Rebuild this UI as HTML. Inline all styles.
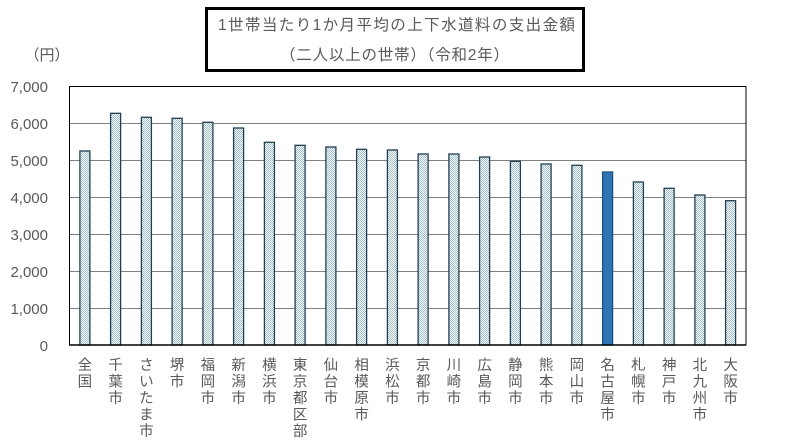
<!DOCTYPE html>
<html><head><meta charset="utf-8"><style>
html,body{margin:0;padding:0;background:#fff;}
svg{display:block;}
text{font-family:"Liberation Sans","Noto Sans CJK JP",sans-serif;fill:#595959;}
</style></head><body>
<svg width="788" height="445" viewBox="0 0 788 445" xmlns="http://www.w3.org/2000/svg">
<defs>
<pattern id="dot" width="2" height="2" patternUnits="userSpaceOnUse">
<rect width="2" height="2" fill="#ffffff"/>
<rect width="1" height="1" fill="#9dbdd0"/>
<rect x="1" y="1" width="1" height="1" fill="#9dbdd0"/>
</pattern>
</defs>
<rect x="0" y="0" width="788" height="445" fill="#fff"/>
<!-- title box -->
<rect x="206.5" y="8.5" width="377" height="62" fill="#fff" stroke="#000" stroke-width="3"/>
<text x="218" y="30" font-size="15.5" textLength="357" lengthAdjust="spacing">1世帯当たり1か月平均の上下水道料の支出金額</text>
<text x="280" y="60" font-size="15.5" textLength="229" lengthAdjust="spacing">（二人以上の世帯）（令和2年）</text>
<text x="47" y="60" text-anchor="middle" font-size="15">（円）</text>
<!-- gridlines -->
<g stroke="#808080" stroke-width="1">
<line x1="69.5" x2="746" y1="123.5" y2="123.5"/>
<line x1="69.5" x2="746" y1="160.5" y2="160.5"/>
<line x1="69.5" x2="746" y1="197.5" y2="197.5"/>
<line x1="69.5" x2="746" y1="234.5" y2="234.5"/>
<line x1="69.5" x2="746" y1="271.5" y2="271.5"/>
<line x1="69.5" x2="746" y1="308.5" y2="308.5"/>
</g>
<rect x="69.5" y="86.5" width="676.5" height="258.5" fill="none" stroke="#000" stroke-width="1"/>
<!-- y labels -->
<g font-size="15" text-anchor="end">
<text x="48" y="92">7,000</text>
<text x="48" y="129">6,000</text>
<text x="48" y="166">5,000</text>
<text x="48" y="203">4,000</text>
<text x="48" y="240">3,000</text>
<text x="48" y="277">2,000</text>
<text x="48" y="314">1,000</text>
<text x="48" y="351">0</text>
</g>
<!-- bars -->
<g stroke="#1f3f52" stroke-width="1.3" fill="url(#dot)">
<rect x="79.9" y="151.0" width="10" height="194.0"/>
<rect x="110.6" y="113.3" width="10" height="231.7"/>
<rect x="141.4" y="117.3" width="10" height="227.7"/>
<rect x="172.1" y="118.3" width="10" height="226.7"/>
<rect x="202.9" y="122.3" width="10" height="222.7"/>
<rect x="233.6" y="128.0" width="10" height="217.0"/>
<rect x="264.4" y="142.3" width="10" height="202.7"/>
<rect x="295.1" y="145.3" width="10" height="199.7"/>
<rect x="325.9" y="147.0" width="10" height="198.0"/>
<rect x="356.6" y="149.3" width="10" height="195.7"/>
<rect x="387.4" y="150.0" width="10" height="195.0"/>
<rect x="418.1" y="154.0" width="10" height="191.0"/>
<rect x="448.9" y="154.0" width="10" height="191.0"/>
<rect x="479.6" y="157.0" width="10" height="188.0"/>
<rect x="510.4" y="161.3" width="10" height="183.7"/>
<rect x="541.1" y="164.0" width="10" height="181.0"/>
<rect x="571.9" y="165.3" width="10" height="179.7"/>
<rect x="602.6" y="172.0" width="10" height="173.0" fill="#2e75b6" stroke="#1f4e79"/>
<rect x="633.4" y="182.0" width="10" height="163.0"/>
<rect x="664.1" y="188.3" width="10" height="156.7"/>
<rect x="694.9" y="195.0" width="10" height="150.0"/>
<rect x="725.6" y="200.7" width="10" height="144.3"/>
</g>
<line x1="69.5" x2="746" y1="345" y2="345" stroke="#000" stroke-width="1.5"/>
<!-- x labels -->
<g font-size="14.5" text-anchor="middle">
<text y="370"><tspan x="84.9">全</tspan><tspan x="84.9" dy="16.5">国</tspan></text>
<text y="370"><tspan x="115.6">千</tspan><tspan x="115.6" dy="16.5">葉</tspan><tspan x="115.6" dy="16.5">市</tspan></text>
<text y="370"><tspan x="146.4">さ</tspan><tspan x="146.4" dy="16.5">い</tspan><tspan x="146.4" dy="16.5">た</tspan><tspan x="146.4" dy="16.5">ま</tspan><tspan x="146.4" dy="16.5">市</tspan></text>
<text y="370"><tspan x="177.1">堺</tspan><tspan x="177.1" dy="16.5">市</tspan></text>
<text y="370"><tspan x="207.9">福</tspan><tspan x="207.9" dy="16.5">岡</tspan><tspan x="207.9" dy="16.5">市</tspan></text>
<text y="370"><tspan x="238.6">新</tspan><tspan x="238.6" dy="16.5">潟</tspan><tspan x="238.6" dy="16.5">市</tspan></text>
<text y="370"><tspan x="269.4">横</tspan><tspan x="269.4" dy="16.5">浜</tspan><tspan x="269.4" dy="16.5">市</tspan></text>
<text y="370"><tspan x="300.1">東</tspan><tspan x="300.1" dy="16.5">京</tspan><tspan x="300.1" dy="16.5">都</tspan><tspan x="300.1" dy="16.5">区</tspan><tspan x="300.1" dy="16.5">部</tspan></text>
<text y="370"><tspan x="330.9">仙</tspan><tspan x="330.9" dy="16.5">台</tspan><tspan x="330.9" dy="16.5">市</tspan></text>
<text y="370"><tspan x="361.6">相</tspan><tspan x="361.6" dy="16.5">模</tspan><tspan x="361.6" dy="16.5">原</tspan><tspan x="361.6" dy="16.5">市</tspan></text>
<text y="370"><tspan x="392.4">浜</tspan><tspan x="392.4" dy="16.5">松</tspan><tspan x="392.4" dy="16.5">市</tspan></text>
<text y="370"><tspan x="423.1">京</tspan><tspan x="423.1" dy="16.5">都</tspan><tspan x="423.1" dy="16.5">市</tspan></text>
<text y="370"><tspan x="453.9">川</tspan><tspan x="453.9" dy="16.5">崎</tspan><tspan x="453.9" dy="16.5">市</tspan></text>
<text y="370"><tspan x="484.6">広</tspan><tspan x="484.6" dy="16.5">島</tspan><tspan x="484.6" dy="16.5">市</tspan></text>
<text y="370"><tspan x="515.4">静</tspan><tspan x="515.4" dy="16.5">岡</tspan><tspan x="515.4" dy="16.5">市</tspan></text>
<text y="370"><tspan x="546.1">熊</tspan><tspan x="546.1" dy="16.5">本</tspan><tspan x="546.1" dy="16.5">市</tspan></text>
<text y="370"><tspan x="576.9">岡</tspan><tspan x="576.9" dy="16.5">山</tspan><tspan x="576.9" dy="16.5">市</tspan></text>
<text y="370"><tspan x="607.6">名</tspan><tspan x="607.6" dy="16.5">古</tspan><tspan x="607.6" dy="16.5">屋</tspan><tspan x="607.6" dy="16.5">市</tspan></text>
<text y="370"><tspan x="638.4">札</tspan><tspan x="638.4" dy="16.5">幌</tspan><tspan x="638.4" dy="16.5">市</tspan></text>
<text y="370"><tspan x="669.1">神</tspan><tspan x="669.1" dy="16.5">戸</tspan><tspan x="669.1" dy="16.5">市</tspan></text>
<text y="370"><tspan x="699.9">北</tspan><tspan x="699.9" dy="16.5">九</tspan><tspan x="699.9" dy="16.5">州</tspan><tspan x="699.9" dy="16.5">市</tspan></text>
<text y="370"><tspan x="730.6">大</tspan><tspan x="730.6" dy="16.5">阪</tspan><tspan x="730.6" dy="16.5">市</tspan></text>
</g>
</svg>
</body></html>
